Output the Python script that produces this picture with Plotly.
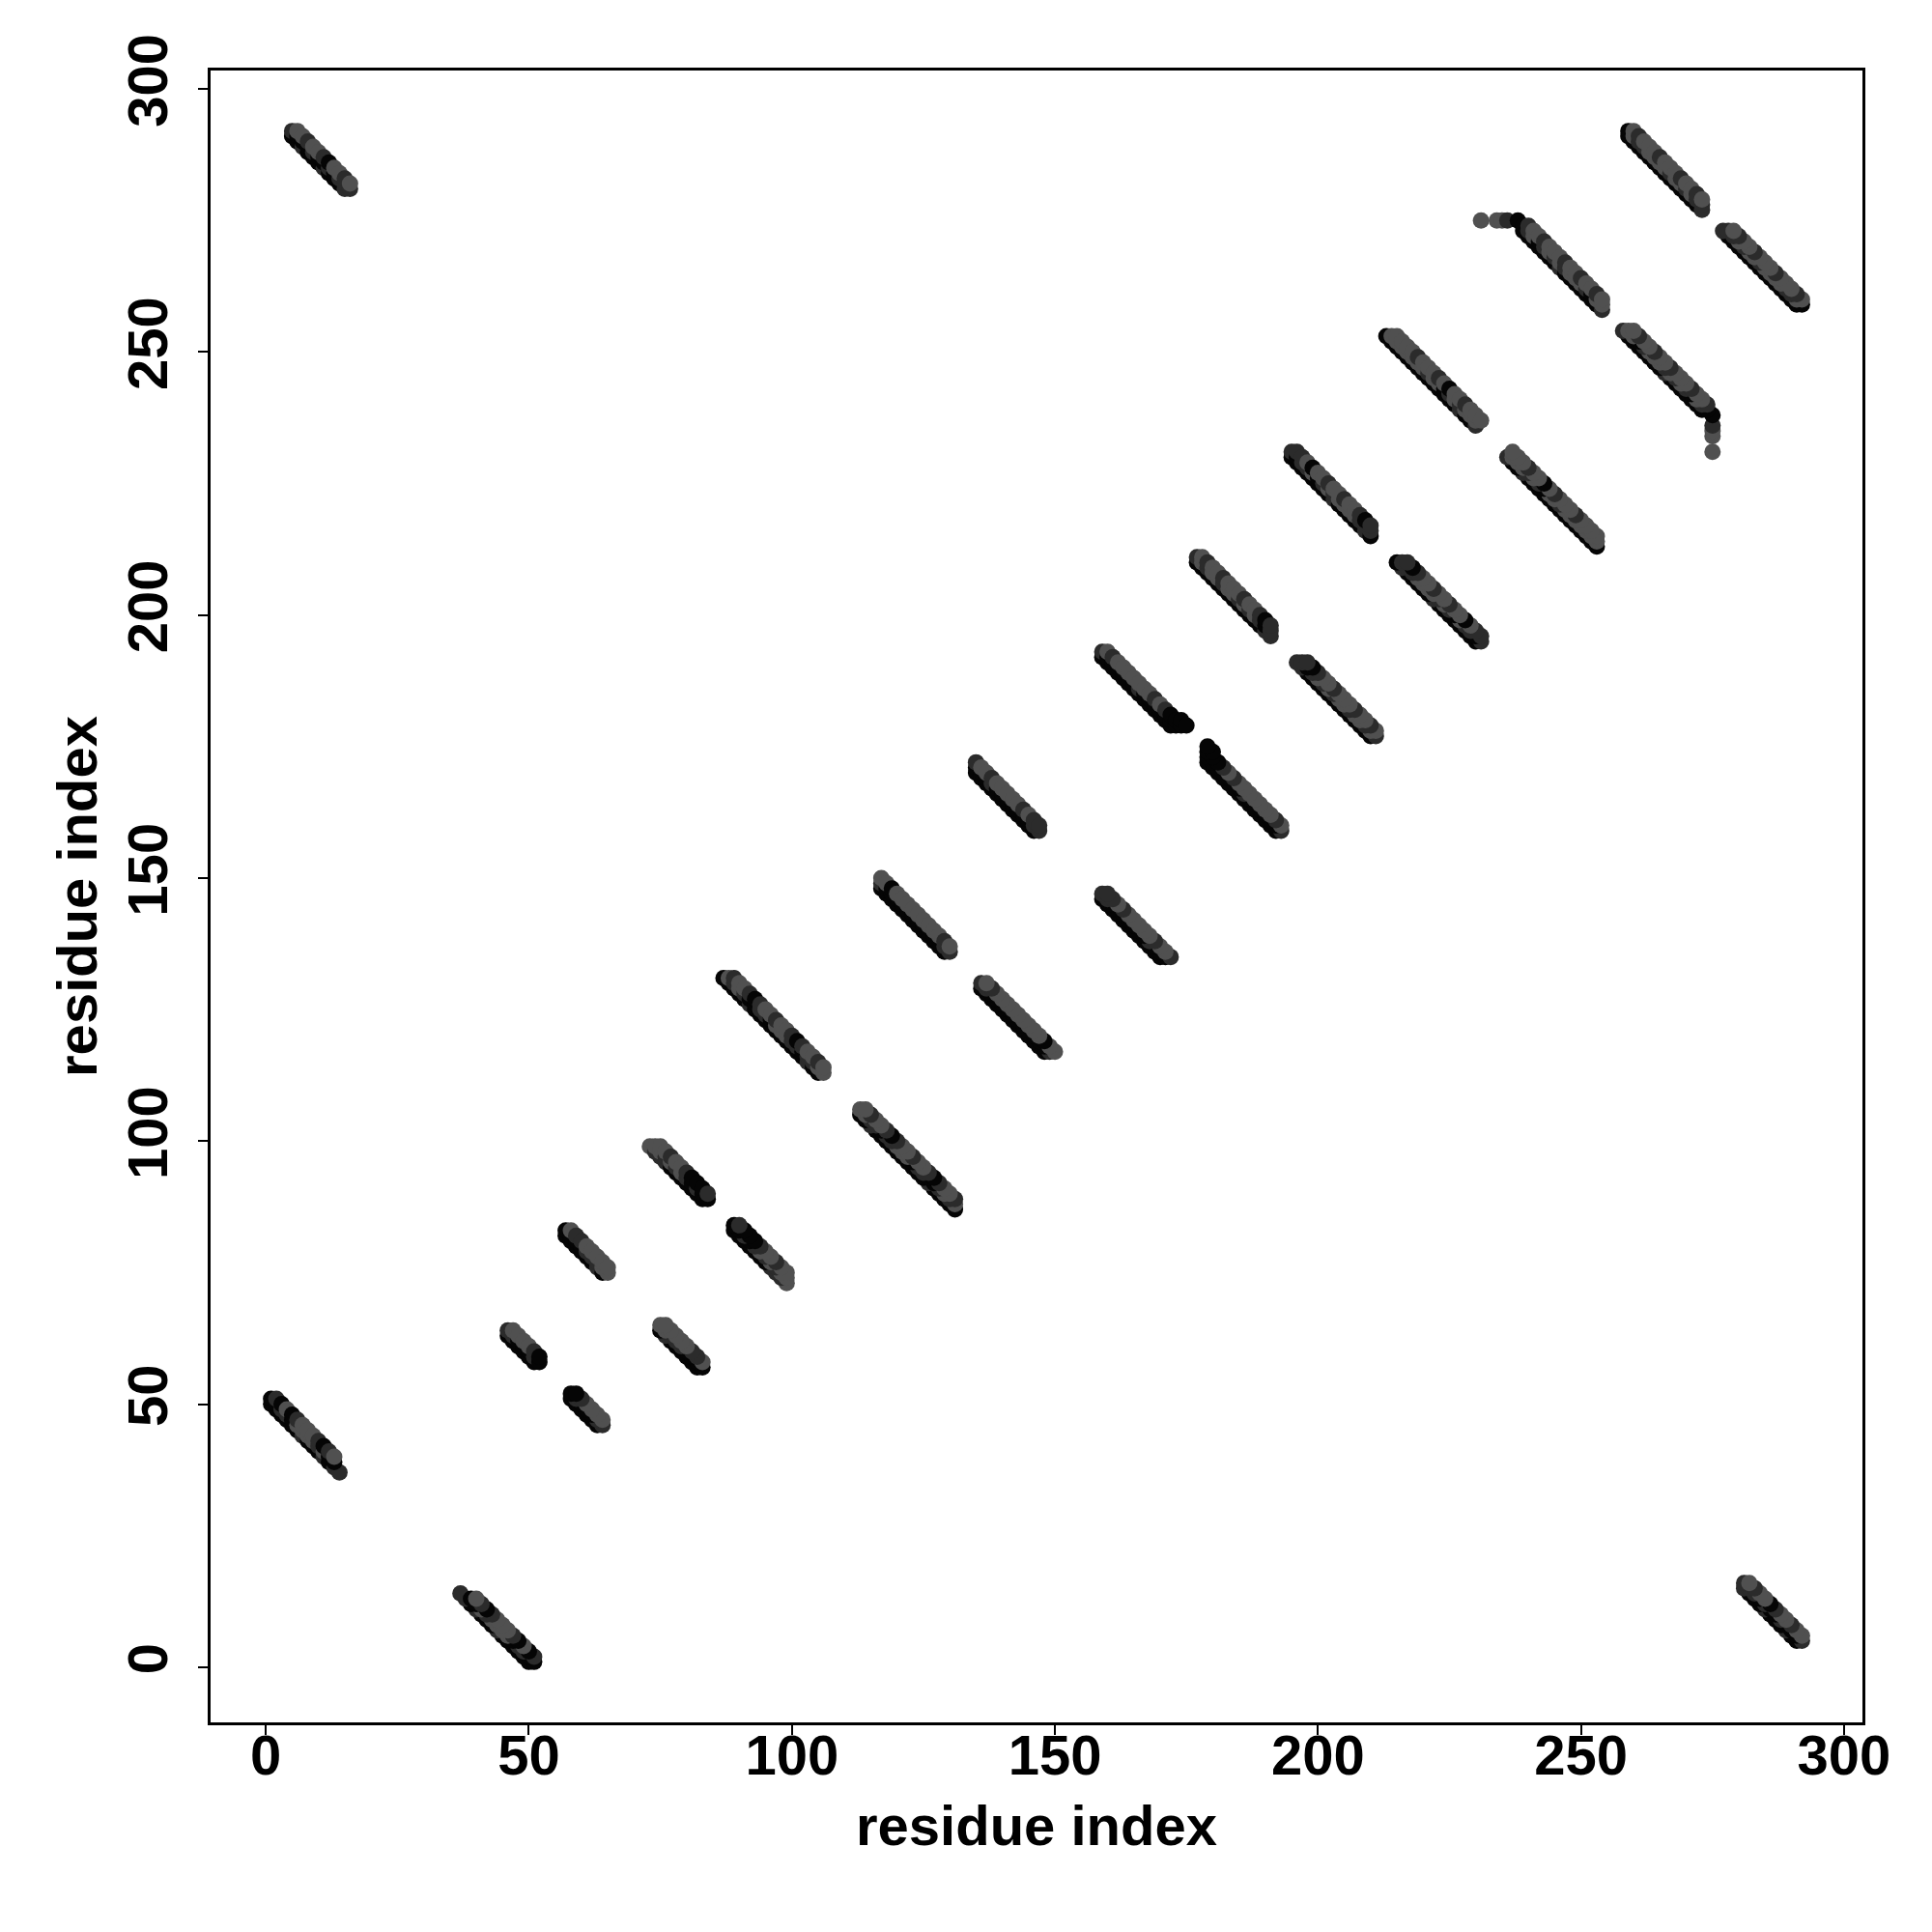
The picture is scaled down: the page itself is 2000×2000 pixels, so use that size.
import plotly.graph_objects as go

# Contact map: residue pairs (i, j) with i < j, grouped by strand pairing.
# Each group lists adjacent anti-diagonal rows of contacts, then any extra points.
# shade code: 0 = black, 1 = dark grey, 2 = grey

A_i = [5, 6, 7, 8, 9, 10, 11, 12, 13, 14, 15,
       5, 6, 7, 8, 9, 10, 11, 12, 13, 14, 15, 16,
       6, 7, 8, 9, 10, 11, 12, 13, 14, 15, 16]
A_j = [291, 290, 289, 288, 287, 286, 285, 284, 283, 282, 281,
       292, 291, 290, 289, 288, 287, 286, 285, 284, 283, 282, 281,
       292, 291, 290, 289, 288, 287, 286, 285, 284, 283, 282]
A_s = [0, 0, 1, 0, 0, 0, 1, 0, 0, 0, 1,
       1, 0, 0, 0, 1, 0, 0, 1, 0, 1, 1, 1,
       2, 2, 1, 2, 2, 1, 0, 2, 2, 1, 2]

B_i = [1, 2, 3, 4, 5, 6, 7, 8, 9, 10, 11, 12, 13, 14,
       1, 2, 3, 4, 5, 6, 7, 8, 9, 10, 11, 12, 13,
       2, 3, 4, 5, 6, 7, 8, 9, 10, 11, 12, 13]
B_j = [50, 49, 48, 47, 46, 45, 44, 43, 42, 41, 40, 39, 38, 37,
       51, 50, 49, 48, 47, 46, 45, 44, 43, 42, 41, 40, 39,
       51, 50, 49, 48, 47, 46, 45, 44, 43, 42, 41, 40]
B_s = [0, 0, 0, 0, 0, 0, 1, 0, 0, 0, 1, 0, 1, 1,
       0, 0, 1, 1, 0, 2, 2, 2, 2, 1, 2, 0, 0,
       1, 0, 2, 0, 1, 2, 2, 2, 1, 0, 1, 2]

C_i = [46, 47, 48, 49, 50, 51,
       46, 47, 48, 49, 50, 51, 52,
       47, 48, 49, 50, 51, 52]
C_j = [63, 62, 61, 60, 59, 58,
       64, 63, 62, 61, 60, 59, 58,
       64, 63, 62, 61, 60, 59]
C_s = [0, 0, 0, 0, 0, 0,
       1, 1, 0, 0, 0, 1, 0,
       2, 2, 2, 2, 1, 0]

D_i = [57, 58, 59, 60, 61, 62, 63, 64,
       57, 58, 59, 60, 61, 62, 63, 64, 65,
       58, 59, 60, 61, 62, 63, 64, 65]
D_j = [82, 81, 80, 79, 78, 77, 76, 75,
       83, 82, 81, 80, 79, 78, 77, 76, 75,
       83, 82, 81, 80, 79, 78, 77, 76]
D_s = [0, 0, 0, 0, 0, 0, 1, 0,
       0, 0, 0, 0, 1, 1, 1, 2, 2,
       2, 1, 1, 2, 2, 2, 2, 2]

E_i = [73, 74, 75, 76, 77, 78, 79, 80, 81, 82, 83,
       74, 75, 76, 77, 78, 79, 80, 81, 82, 83, 84,
       75, 76, 77, 78, 79, 80, 81, 82, 83, 84]
E_j = [99, 98, 97, 96, 95, 94, 93, 92, 91, 90, 89,
       99, 98, 97, 96, 95, 94, 93, 92, 91, 90, 89,
       99, 98, 97, 96, 95, 94, 93, 92, 91, 90]
E_s = [2, 1, 1, 1, 0, 0, 0, 0, 0, 0, 0,
       2, 2, 1, 2, 1, 2, 1, 0, 1, 0, 0,
       2, 2, 1, 2, 2, 1, 0, 0, 0, 1]

F_i = [87, 88, 89, 90, 91, 92, 93, 94, 95, 96, 97, 98, 99, 100, 101, 102, 103, 104, 105,
       88, 89, 90, 91, 92, 93, 94, 95, 96, 97, 98, 99, 100, 101, 102, 103, 104, 105, 106,
       89, 90, 91, 92, 93, 94, 95, 96, 97, 98, 99, 100, 101, 102, 103, 104, 105, 106]
F_j = [131, 130, 129, 128, 127, 126, 125, 124, 123, 122, 121, 120, 119, 118, 117, 116, 115, 114, 113,
       131, 130, 129, 128, 127, 126, 125, 124, 123, 122, 121, 120, 119, 118, 117, 116, 115, 114, 113,
       131, 130, 129, 128, 127, 126, 125, 124, 123, 122, 121, 120, 119, 118, 117, 116, 115, 114]
F_s = [0, 0, 0, 0, 0, 1, 0, 0, 0, 0, 0, 0, 0, 0, 0, 0, 1, 0, 0,
       2, 1, 2, 1, 0, 0, 1, 1, 0, 2, 2, 2, 1, 1, 0, 1, 1, 2, 2,
       1, 2, 2, 1, 0, 1, 2, 2, 1, 2, 2, 1, 0, 1, 2, 2, 1, 2]

G_i = [117, 118, 119, 120, 121, 122, 123, 124, 125, 126, 127, 128, 129,
       117, 118, 119, 120, 121, 122, 123, 124, 125, 126, 127, 128, 129, 130,
       117, 118, 119, 120, 121, 122, 123, 124, 125, 126, 127, 128, 129, 130]
G_j = [148, 147, 146, 145, 144, 143, 142, 141, 140, 139, 138, 137, 136,
       149, 148, 147, 146, 145, 144, 143, 142, 141, 140, 139, 138, 137, 136,
       150, 149, 148, 147, 146, 145, 144, 143, 142, 141, 140, 139, 138, 137]
G_s = [0, 0, 0, 0, 0, 0, 0, 0, 0, 0, 0, 0, 0,
       1, 0, 0, 0, 0, 0, 0, 0, 0, 0, 0, 0, 1, 1,
       2, 2, 0, 2, 2, 2, 2, 2, 2, 2, 2, 2, 1, 2]

I_i = [135, 136, 137, 138, 139, 140, 141, 142, 143, 144, 145, 146,
       135, 136, 137, 138, 139, 140, 141, 142, 143, 144, 145, 146, 147,
       135, 136, 137, 138, 139, 140, 141, 142, 143, 144, 145, 146, 147]
I_j = [170, 169, 168, 167, 166, 165, 164, 163, 162, 161, 160, 159,
       171, 170, 169, 168, 167, 166, 165, 164, 163, 162, 161, 160, 159,
       172, 171, 170, 169, 168, 167, 166, 165, 164, 163, 162, 161, 160]
I_s = [0, 0, 0, 0, 0, 0, 0, 0, 0, 0, 0, 0,
       0, 0, 0, 1, 0, 0, 0, 0, 0, 0, 0, 1, 1,
       1, 2, 2, 1, 2, 2, 2, 2, 2, 1, 2, 1, 1]

H_i = [159, 160, 161, 162, 163, 164, 165, 166, 167, 168, 169, 170, 171, 172,
       159, 160, 161, 162, 163, 164, 165, 166, 167, 168, 169, 170, 171, 172, 173,
       160, 161, 162, 163, 164, 165, 166, 167, 168, 169, 170, 171, 172, 173, 174,
       174, 175]
H_j = [192, 191, 190, 189, 188, 187, 186, 185, 184, 183, 182, 181, 180, 179,
       193, 192, 191, 190, 189, 188, 187, 186, 185, 184, 183, 182, 181, 180, 179,
       193, 192, 191, 190, 189, 188, 187, 186, 185, 184, 183, 182, 181, 180, 179,
       180, 179]
H_s = [0, 0, 0, 0, 0, 0, 0, 0, 0, 0, 0, 0, 0, 0,
       1, 0, 0, 0, 0, 0, 0, 1, 0, 0, 0, 0, 0, 0, 0,
       2, 1, 2, 2, 2, 2, 2, 2, 2, 1, 2, 1, 0, 0, 0,
       0, 0]

L_i = [177, 178, 179, 180, 181, 182, 183, 184, 185, 186, 187, 188, 189, 190, 191,
       177, 178, 179, 180, 181, 182, 183, 184, 185, 186, 187, 188, 189, 190, 191,
       178, 179, 180, 181, 182, 183, 184, 185, 186, 187, 188, 189, 190, 191]
L_j = [210, 209, 208, 207, 206, 205, 204, 203, 202, 201, 200, 199, 198, 197, 196,
       211, 210, 209, 208, 207, 206, 205, 204, 203, 202, 201, 200, 199, 198, 197,
       211, 210, 209, 208, 207, 206, 205, 204, 203, 202, 201, 200, 199, 198]
L_s = [0, 0, 0, 0, 0, 0, 0, 0, 0, 0, 0, 0, 0, 1, 1,
       1, 2, 1, 2, 2, 1, 2, 2, 1, 2, 1, 2, 1, 0, 1,
       2, 1, 2, 2, 1, 2, 2, 2, 1, 2, 2, 1, 0, 1]

K_i = [195, 196, 197, 198, 199, 200, 201, 202, 203, 204, 205, 206, 207, 208, 209, 210,
       195, 196, 197, 198, 199, 200, 201, 202, 203, 204, 205, 206, 207, 208, 209, 210,
       196, 197, 198, 199, 200, 201, 202, 203, 204, 205, 206, 207, 208, 209, 210]
K_j = [230, 229, 228, 227, 226, 225, 224, 223, 222, 221, 220, 219, 218, 217, 216, 215,
       231, 230, 229, 228, 227, 226, 225, 224, 223, 222, 221, 220, 219, 218, 217, 216,
       231, 230, 229, 228, 227, 226, 225, 224, 223, 222, 221, 220, 219, 218, 217]
K_s = [0, 0, 0, 0, 0, 0, 0, 0, 1, 0, 0, 0, 0, 0, 1, 0,
       1, 0, 1, 1, 2, 0, 1, 2, 1, 2, 2, 2, 2, 1, 1, 1,
       1, 1, 2, 0, 2, 2, 1, 2, 2, 1, 2, 2, 1, 0, 1]

J_i = [213, 214, 215, 216, 217, 218, 219, 220, 221, 222, 223, 224, 225, 226, 227, 228, 229, 230,
       214, 215, 216, 217, 218, 219, 220, 221, 222, 223, 224, 225, 226, 227, 228, 229, 230,
       215, 216, 217, 218, 219, 220, 221, 222, 223, 224, 225, 226, 227, 228, 229, 230,
       231]
J_j = [253, 252, 251, 250, 249, 248, 247, 246, 245, 244, 243, 242, 241, 240, 239, 238, 237, 236,
       253, 252, 251, 250, 249, 248, 247, 246, 245, 244, 243, 242, 241, 240, 239, 238, 237,
       253, 252, 251, 250, 249, 248, 247, 246, 245, 244, 243, 242, 241, 240, 239, 238,
       237]
J_s = [0, 0, 0, 0, 0, 0, 0, 0, 0, 0, 0, 0, 0, 0, 1, 0, 0, 1,
       2, 2, 2, 2, 2, 2, 2, 1, 2, 2, 0, 1, 2, 1, 2, 2, 2,
       2, 2, 2, 2, 1, 2, 2, 2, 1, 2, 0, 2, 2, 1, 2, 2,
       2]

N_i = [231, 234, 235, 236, 238,
       239, 240, 241, 242, 243, 244, 245, 246, 247, 248, 249, 250, 251, 252, 253, 254,
       239, 240, 241, 242, 243, 244, 245, 246, 247, 248, 249, 250, 251, 252, 253, 254,
       240, 241, 242, 243, 244, 245, 246, 247, 248, 249, 250, 251, 252, 253, 254]
N_j = [275, 275, 275, 275, 275,
       273, 272, 271, 270, 269, 268, 267, 266, 265, 264, 263, 262, 261, 260, 259, 258,
       274, 273, 272, 271, 270, 269, 268, 267, 266, 265, 264, 263, 262, 261, 260, 259,
       274, 273, 272, 271, 270, 269, 268, 267, 266, 265, 264, 263, 262, 261, 260]
N_s = [2, 2, 2, 1, 0,
       0, 0, 0, 0, 0, 0, 0, 1, 0, 0, 0, 0, 0, 0, 0, 1,
       0, 1, 2, 0, 1, 2, 1, 2, 1, 2, 2, 2, 1, 0, 2, 2,
       1, 2, 2, 1, 2, 2, 2, 1, 2, 2, 1, 2, 2, 1, 2]

M_i = [259, 260, 261, 262, 263, 264, 265, 266, 267, 268, 269, 270, 271, 272, 273,
       259, 260, 261, 262, 263, 264, 265, 266, 267, 268, 269, 270, 271, 272, 273,
       260, 261, 262, 263, 264, 265, 266, 267, 268, 269, 270, 271, 272, 273]
M_j = [291, 290, 289, 288, 287, 286, 285, 284, 283, 282, 281, 280, 279, 278, 277,
       292, 291, 290, 289, 288, 287, 286, 285, 284, 283, 282, 281, 280, 279, 278,
       292, 291, 290, 289, 288, 287, 286, 285, 284, 283, 282, 281, 280, 279]
M_s = [0, 0, 0, 0, 0, 0, 0, 0, 0, 0, 0, 0, 0, 0, 1,
       0, 2, 1, 1, 2, 2, 2, 2, 1, 2, 2, 1, 2, 1, 1,
       2, 1, 2, 2, 2, 1, 2, 2, 2, 1, 2, 2, 1, 2]

SHADES = ["#050505", "#2b2b2b", "#505050"]
TICKS = [0, 50, 100, 150, 200, 250, 300]
AXIS_TITLE = "residue index"

groups = [(A_i, A_j, A_s), (B_i, B_j, B_s), (C_i, C_j, C_s), (D_i, D_j, D_s),
          (E_i, E_j, E_s), (F_i, F_j, F_s), (G_i, G_j, G_s), (I_i, I_j, I_s),
          (H_i, H_j, H_s), (L_i, L_j, L_s), (K_i, K_j, K_s), (J_i, J_j, J_s),
          (N_i, N_j, N_s), (M_i, M_j, M_s)]

fig = go.Figure()
for gi, gj, gs in groups:
    assert len(gi) == len(gj) == len(gs)
    cols = [SHADES[s] for s in gs]
    # symmetric map: draw (i, j) and (j, i)
    fig.add_trace(go.Scatter(
        x=list(gi) + list(gj), y=list(gj) + list(gi), mode="markers",
        marker=dict(size=17, color=cols + cols, line=dict(width=0)),
        hoverinfo="x+y", showlegend=False))

font_tick = dict(family="Liberation Sans", size=58, color="black", weight="bold")
font_title = dict(family="Liberation Sans", size=58, color="black", weight="bold")

axis_common = dict(
    range=[-10.5, 303.5], tickmode="array", tickvals=TICKS,
    ticktext=[str(t) for t in TICKS], ticks="outside", ticklen=10, tickwidth=2,
    tickcolor="black", showline=True, linewidth=3, linecolor="black", mirror=True,
    showgrid=False, zeroline=False, tickfont=font_tick, automargin=False)

fig.update_layout(
    width=2000, height=2000,
    margin=dict(l=210, r=80, t=65, b=225),
    plot_bgcolor="white", paper_bgcolor="white", showlegend=False,
    xaxis=dict(**axis_common, ticklabelstandoff=-29,
               title=dict(text=AXIS_TITLE, font=font_title, standoff=22)),
    yaxis=dict(**axis_common, tickangle=-90, ticklabelstandoff=9,
               title=dict(text=AXIS_TITLE, font=font_title, standoff=1)),
)

fig.write_html("out.html")
